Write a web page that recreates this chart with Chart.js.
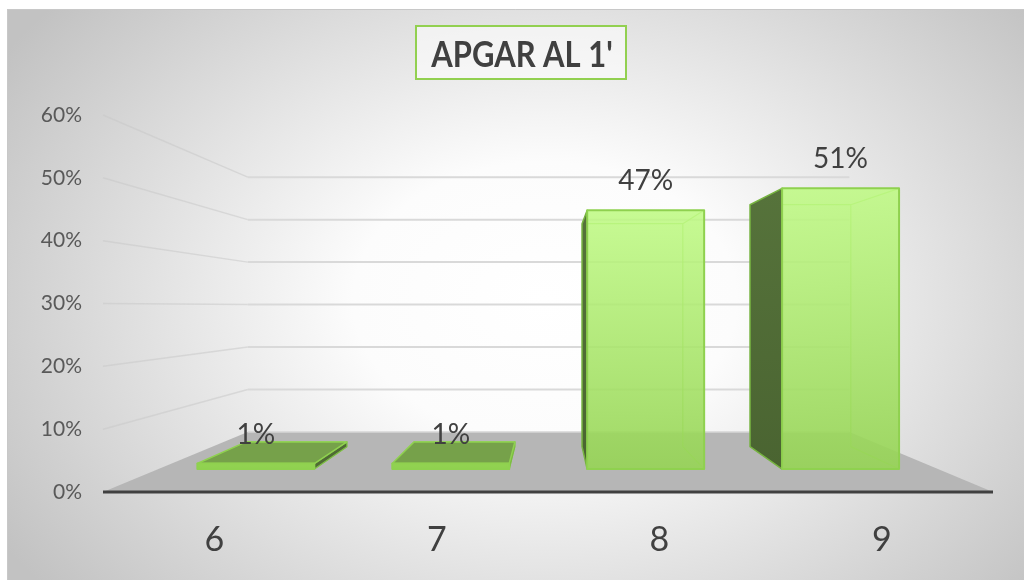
<!DOCTYPE html>
<html><head><meta charset="utf-8">
<script src="https://cdn.jsdelivr.net/npm/chart.js@4.4.1/dist/chart.umd.min.js"></script>
<style>html,body{margin:0;padding:0;background:#fff;}#wrap{width:1024px;height:580px;}</style>
</head><body><div id="wrap"><canvas id="c" width="1024" height="580"></canvas></div>
<script>
const chartTitle = "APGAR AL 1'";
const categories = ['6', '7', '8', '9'];
const percentValues = [0.01, 0.01, 0.47, 0.51];
const yTickValues = [0, 0.1, 0.2, 0.3, 0.4, 0.5, 0.6];

const FONT = 'Lato, "Open Sans", sans-serif';
// perspective settings (relative to chart area)
const VP_FX = 0.502, VP_FY = 0.509;
const S_FLOOR = 0.676, S_FRONT = 0.876, S_BACK = 0.755;

function fmtPct(v){ return Math.round(v * 100) + '%'; }

function poly(ctx, pts, fill, stroke, lw){
  ctx.beginPath();
  pts.forEach((p,i)=> i ? ctx.lineTo(p[0],p[1]) : ctx.moveTo(p[0],p[1]));
  ctx.closePath();
  if (fill){ ctx.fillStyle = fill; ctx.fill(); }
  if (stroke){ ctx.strokeStyle = stroke; ctx.lineWidth = lw || 1; ctx.stroke(); }
}

const threeD = {
  id: 'threeD',
  _proj(chart){
    const a = chart.chartArea;
    const vx = a.left + VP_FX * (a.right - a.left);
    const vy = a.top + VP_FY * (a.bottom - a.top);
    return (x, y, s) => [vx + s * (x - vx), vy + s * (y - vy)];
  },
  beforeDraw(chart){
    const ctx = chart.ctx, W = chart.width, H = chart.height;
    ctx.save();
    ctx.fillStyle = '#ffffff';
    ctx.fillRect(0, 0, W, H);
    // radial background
    ctx.save();
    ctx.beginPath(); ctx.rect(7, 9, W - 7, H - 9); ctx.clip();
    ctx.translate(545, 300);
    ctx.scale(1, 0.72);
    const g = ctx.createRadialGradient(0, 0, 0, 0, 0, 640);
    g.addColorStop(0, '#ffffff');
    g.addColorStop(0.3, '#fcfcfc');
    g.addColorStop(1, '#c2c2c2');
    ctx.fillStyle = g;
    ctx.fillRect(-800, -800, 1600, 1600);
    ctx.restore();
    ctx.strokeStyle = '#c8c8c8'; ctx.lineWidth = 1;
    ctx.beginPath(); ctx.moveTo(7.5, H); ctx.lineTo(7.5, 9.5); ctx.lineTo(W, 9.5); ctx.stroke();
    // title box
    ctx.fillStyle = 'rgba(255,255,255,0.55)';
    ctx.fillRect(416, 26, 210, 53);
    ctx.strokeStyle = '#92d050'; ctx.lineWidth = 2;
    ctx.strokeRect(416, 26, 210, 53);
    ctx.fillStyle = '#404040';
    ctx.font = 'bold 36px ' + FONT;
    ctx.textAlign = 'center'; ctx.textBaseline = 'middle';
    ctx.save();
    ctx.translate(522, 55);
    ctx.scale(0.86, 1);
    ctx.fillText(chartTitle, 0, 0);
    ctx.restore();
    ctx.restore();
  },
  beforeDatasetsDraw(chart){
    const ctx = chart.ctx, a = chart.chartArea, P = this._proj(chart);
    const ys = chart.scales.y;
    ctx.save();
    // walls gridlines
    yTickValues.forEach(v => {
      if (v === 0) return;
      const yf = ys.getPixelForValue(v);
      const bl = P(a.left, yf, S_FLOOR), br = P(a.right, yf, S_FLOOR);
      ctx.strokeStyle = 'rgba(200,200,200,0.55)'; ctx.lineWidth = 1.5;
      ctx.beginPath(); ctx.moveTo(a.left, yf); ctx.lineTo(bl[0], bl[1]); ctx.stroke();
      ctx.strokeStyle = '#d9d9d9'; ctx.lineWidth = 2;
      ctx.beginPath(); ctx.moveTo(bl[0], bl[1]); ctx.lineTo(br[0], br[1]); ctx.stroke();
    });
    // floor
    const y0 = ys.getPixelForValue(0);
    poly(ctx, [[a.left, y0], [a.right, y0], P(a.right, y0, S_FLOOR), P(a.left, y0, S_FLOOR)], '#b6b6b6');
    ctx.strokeStyle = '#d6d6d6'; ctx.lineWidth = 1.5;
    const fl = P(a.left, y0, S_FLOOR), fr = P(a.right, y0, S_FLOOR);
    ctx.beginPath(); ctx.moveTo(fl[0], fl[1]); ctx.lineTo(fr[0], fr[1]); ctx.stroke();
    // axis line
    ctx.strokeStyle = '#404040'; ctx.lineWidth = 3;
    ctx.beginPath(); ctx.moveTo(a.left, y0); ctx.lineTo(a.right, y0); ctx.stroke();
    ctx.restore();
  },
  afterDatasetsDraw(chart){
    const ctx = chart.ctx, P = this._proj(chart);
    const a = chart.chartArea;
    const vx = a.left + VP_FX * (a.right - a.left);
    const vy = a.top + VP_FY * (a.bottom - a.top);
    const meta = chart.getDatasetMeta(0);
    ctx.save();
    ctx.lineJoin = 'round';
    meta.data.forEach((el, i) => {
      const x0 = el.x - el.width / 2, x1 = el.x + el.width / 2;
      const yT = el.y, yB = el.base;
      const fTL = P(x0, yT, S_FRONT), fTR = P(x1, yT, S_FRONT), fBR = P(x1, yB, S_FRONT), fBL = P(x0, yB, S_FRONT);
      const bTL = P(x0, yT, S_BACK), bTR = P(x1, yT, S_BACK), bBR = P(x1, yB, S_BACK), bBL = P(x0, yB, S_BACK);
      // back edges (seen through)
      ctx.strokeStyle = 'rgba(150,215,90,0.9)'; ctx.lineWidth = 1.2;
      ctx.beginPath();
      ctx.moveTo(bTL[0], bTL[1]); ctx.lineTo(bTR[0], bTR[1]); ctx.lineTo(bBR[0], bBR[1]);
      ctx.moveTo(bBR[0], bBR[1]); ctx.lineTo(fBR[0], fBR[1]);
      ctx.moveTo(bTR[0], bTR[1]); ctx.lineTo(fTR[0], fTR[1]);
      ctx.stroke();
      // side faces
      if (x0 > vx) {
        const g = ctx.createLinearGradient(0, fTL[1], 0, fBL[1]);
        g.addColorStop(0, '#56733b'); g.addColorStop(1, '#4a6431');
        poly(ctx, [bTL, fTL, fBL, bBL], g, '#76b340', 1.5);
      }
      if (x1 < vx) {
        poly(ctx, [fTR, bTR, bBR, fBR], '#4f6a35', '#7cbc44', 1.2);
      }
      if (yT > vy) {
        poly(ctx, [fTL, fTR, bTR, bTL], '#76a14a', '#8fd14f', 1.5);
      }
      // front face
      const gf = ctx.createLinearGradient(0, fTL[1], 0, fBL[1]);
      if (fBL[1] - fTL[1] > 20) {
        gf.addColorStop(0, 'rgba(190,250,130,0.86)');
        gf.addColorStop(1, 'rgba(150,212,85,0.9)');
      } else {
        gf.addColorStop(0, '#92d352'); gf.addColorStop(1, '#8fd14f');
      }
      poly(ctx, [fTL, fTR, fBR, fBL], gf, '#8fd14f', 2);
      // data label
      ctx.fillStyle = '#404040';
      ctx.font = '28px ' + FONT;
      ctx.textAlign = 'center'; ctx.textBaseline = 'middle';
      ctx.fillText(fmtPct(percentValues[i]), (fTL[0] + fTR[0]) / 2, fTL[1] - 29);
    });
    ctx.restore();
  }
};

new Chart(document.getElementById('c'), {
  type: 'bar',
  data: {
    labels: categories,
    datasets: [{
      data: percentValues,
      backgroundColor: 'rgba(0,0,0,0)',
      borderWidth: 0,
      categoryPercentage: 1,
      barPercentage: 0.6
    }]
  },
  options: {
    responsive: false,
    animation: false,
    devicePixelRatio: 1,
    layout: { padding: { left: 7, right: 31, top: 115, bottom: 0 } },
    plugins: { legend: { display: false }, title: { display: false }, tooltip: { enabled: false } },
    scales: {
      x: {
        grid: { display: false, drawTicks: false },
        border: { display: false },
        ticks: { padding: 28, color: '#404040', font: { family: FONT, size: 34 } },
        afterFit: s => { s.height = 88; }
      },
      y: {
        min: 0, max: 0.6,
        afterBuildTicks: s => { s.ticks = yTickValues.map(v => ({ value: v })); },
        grid: { display: false, drawTicks: false },
        border: { display: false },
        ticks: { padding: 21, color: '#595959', font: { family: FONT, size: 21 }, callback: v => fmtPct(v) },
        afterFit: s => { s.width = 96; }
      }
    }
  },
  plugins: [threeD]
});
</script>
</body></html>
